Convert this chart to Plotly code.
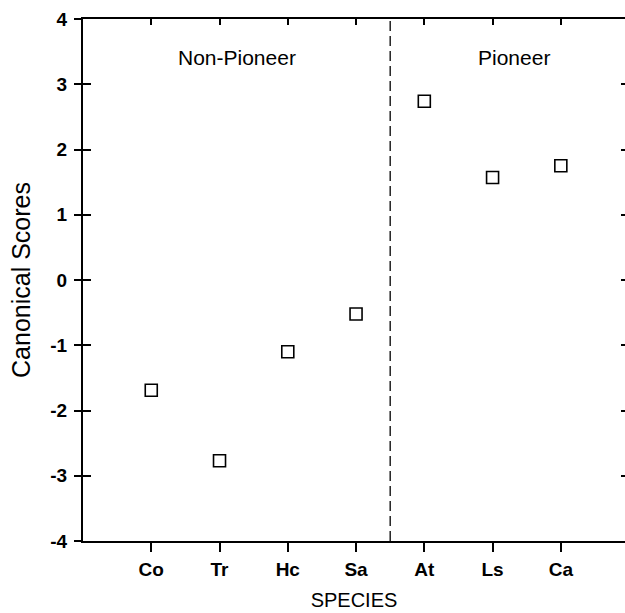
import plotly.graph_objects as go

species = ["Co", "Tr", "Hc", "Sa", "At", "Ls", "Ca"]
scores = [-1.69, -2.77, -1.10, -0.52, 2.74, 1.57, 1.75]
group_labels = ["Non-Pioneer", "Pioneer"]
y_ticks = [-4, -3, -2, -1, 0, 1, 2, 3, 4]
y_tick_labels = ["-4", "-3", "-2", "-1", "0", "1", "2", "3", "4"]

xpos = list(range(1, len(species) + 1))
divider = (xpos[3] + xpos[4]) / 2

FONT = "Liberation Sans, Arial, sans-serif"
XR = [0, 7.94]
YR = [-4, 4]

fig = go.Figure()
fig.add_trace(go.Scatter(
    x=xpos, y=scores, mode="markers",
    marker=dict(symbol="square-open", size=12, color="black",
                line=dict(width=1.6, color="black")),
    showlegend=False, hoverinfo="skip"))

fig.add_vline(x=divider, line=dict(color="black", width=1.3, dash="10px,5px"))

fig.add_annotation(x=2.25, y=3.41, text=group_labels[0], showarrow=False,
                   font=dict(family=FONT, size=21, color="black"))
fig.add_annotation(x=6.32, y=3.41, text=group_labels[1], showarrow=False,
                   font=dict(family=FONT, size=21, color="black"))

fig.update_layout(
    width=625, height=613,
    margin=dict(l=83, r=0, t=19, b=72, autoexpand=False),
    paper_bgcolor="white", plot_bgcolor="white",
    xaxis=dict(range=XR, tickmode="array", tickvals=xpos, ticktext=species,
               automargin=False,
               showgrid=False, zeroline=False, showline=True, linecolor="black",
               linewidth=2, ticks="outside", ticklen=9, tickwidth=1.5,
               tickcolor="black", ticklabelstandoff=1,
               tickfont=dict(family=FONT, size=19, color="black", weight="bold"),
               title=dict(text="SPECIES", standoff=14,
                          font=dict(family=FONT, size=20, color="black"))),
    xaxis2=dict(range=XR, overlaying="x", side="top", tickmode="array",
                tickvals=xpos, showticklabels=False, showgrid=False,
                automargin=False,
                zeroline=False, showline=True, linecolor="black", linewidth=2,
                ticks="inside", ticklen=6, tickwidth=1.5, tickcolor="black"),
    yaxis=dict(range=YR, tickmode="array", tickvals=y_ticks,
               ticktext=y_tick_labels, automargin=False,
               showgrid=False, zeroline=False, showline=True, linecolor="black",
               linewidth=2, ticks="outside", ticklen=7, tickwidth=1.5,
               tickcolor="black", ticklabelstandoff=3,
               tickfont=dict(family=FONT, size=19, color="black", weight="bold"),
               title=dict(text="Canonical Scores", standoff=13,
                          font=dict(family=FONT, size=25, color="black"))),
    yaxis2=dict(range=YR, overlaying="y", side="right", tickmode="array",
                tickvals=y_ticks, showticklabels=False, showgrid=False,
                automargin=False,
                zeroline=False, showline=False, ticks="inside", ticklen=4,
                tickwidth=1.5, tickcolor="black"),
    yaxis3=dict(range=YR, overlaying="y", side="left", tickmode="array",
                tickvals=y_ticks, showticklabels=False, showgrid=False,
                automargin=False,
                zeroline=False, showline=False, ticks="inside", ticklen=8,
                tickwidth=1.5, tickcolor="black"),
)

fig.add_trace(go.Scatter(x=[None], y=[None], xaxis="x2", yaxis="y2",
                         showlegend=False, hoverinfo="skip"))
fig.add_trace(go.Scatter(x=[None], y=[None], xaxis="x", yaxis="y3",
                         showlegend=False, hoverinfo="skip"))

fig.write_html(
    "out.html",
    config={"displayModeBar": False},
    post_script="document.body.style.margin='0';document.body.style.overflow='hidden';",
)
